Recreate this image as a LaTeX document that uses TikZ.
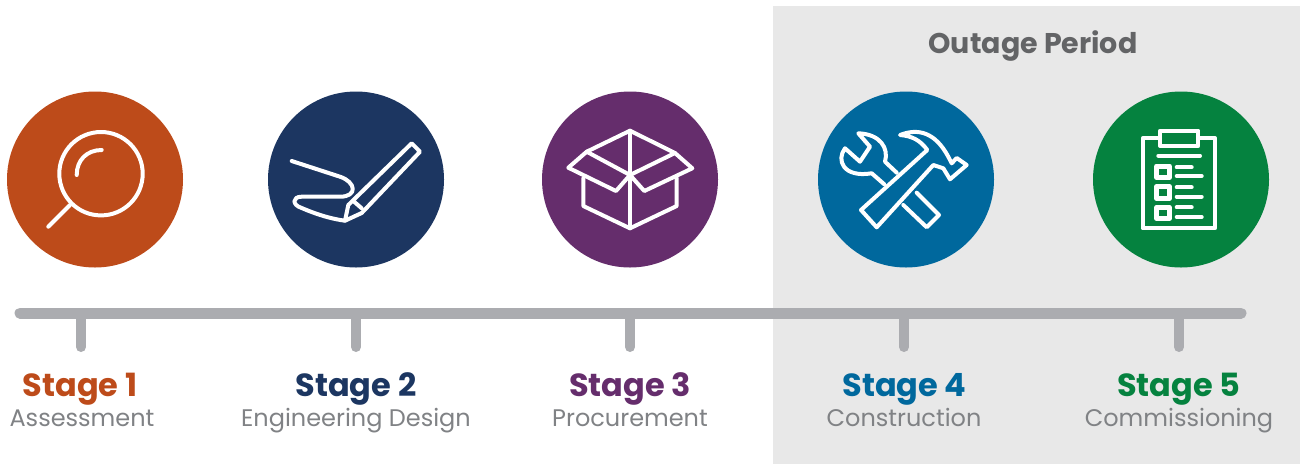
\documentclass[tikz,border=0pt]{standalone}
\usepackage{fontspec}
\setmainfont{Poppins}
\definecolor{stageorange}{HTML}{BD4B1A}
\definecolor{stagenavy}{HTML}{1C3661}
\definecolor{stagepurple}{HTML}{652D6C}
\definecolor{stageblue}{HTML}{00689D}
\definecolor{stagegreen}{HTML}{05823F}
\definecolor{panelgray}{HTML}{E8E8E8}
\definecolor{bargray}{HTML}{ABACB0}
\definecolor{subgray}{HTML}{808285}
\definecolor{outagegray}{HTML}{636466}
\tikzset{
    stagedot/.style={circle,minimum size=176pt,inner sep=0pt},
    stagelabel/.style={anchor=base,inner sep=0pt,font=\fontsize{32}{32}\selectfont\bfseries},
    sublabel/.style={anchor=base,inner sep=0pt,text=subgray,font=\fontsize{24}{24}\selectfont},
    icon/.style={draw=white,line width=4pt,line cap=round,line join=round},
    barline/.style={draw=bargray,line cap=round}
}
\begin{document}
\begin{tikzpicture}[x=1pt,y=-1pt]
    \useasboundingbox (0,0) rectangle (1300,464);
    \fill[panelgray] (773,6) rectangle (1300,464);
    \node[anchor=base,inner sep=0pt,text=outagegray,font=\fontsize{28.5}{28.5}\selectfont\bfseries] (outage) at (1033,53){Outage Period};

    \node[stagedot,fill=stageorange] (dotA) at (95,179.5){};
    \node[stagedot,fill=stagenavy] (dotB) at (356,179.5){};
    \node[stagedot,fill=stagepurple] (dotC) at (630,179.5){};
    \node[stagedot,fill=stageblue] (dotD) at (906,179.5){};
    \node[stagedot,fill=stagegreen] (dotE) at (1181,179.5){};

    \coordinate (barA) at (20,313);
    \coordinate (barB) at (1241,313);
    \coordinate (tickA) at (81,313);
    \coordinate (tickB) at (356,313);
    \coordinate (tickC) at (630,313);
    \coordinate (tickD) at (904,313);
    \coordinate (tickE) at (1179,313);
    \coordinate (endA) at (81,347);
    \coordinate (endB) at (356,347);
    \coordinate (endC) at (630,347);
    \coordinate (endD) at (904,347);
    \coordinate (endE) at (1179,347);
    \draw[barline,line width=10pt] (tickA)--(endA);
    \draw[barline,line width=10pt] (tickB)--(endB);
    \draw[barline,line width=10pt] (tickC)--(endC);
    \draw[barline,line width=10pt] (tickD)--(endD);
    \draw[barline,line width=10pt] (tickE)--(endE);
    \draw[barline,line width=11pt] (barA)--(barB);

    \node[stagelabel,text=stageorange] (stageA) at (80,396.5){Stage 1};
    \node[stagelabel,text=stagenavy] (stageB) at (356,396.5){Stage 2};
    \node[stagelabel,text=stagepurple] (stageC) at (630,396.5){Stage 3};
    \node[stagelabel,text=stageblue] (stageD) at (904.5,396.5){Stage 4};
    \node[stagelabel,text=stagegreen] (stageE) at (1179,396.5){Stage 5};
    \node[sublabel] (subA) at (82,426){Assessment};
    \node[sublabel] (subB) at (356,426){Engineering Design};
    \node[sublabel] (subC) at (630,426){Procurement};
    \node[sublabel] (subD) at (904,426){Construction};
    \node[sublabel] (subE) at (1179,426){Commissioning};

    \draw[icon] (101,173.7) circle (41.7);
    \draw[icon] (70,205)--(48.3,226.7);
    \draw[icon] (76.7,175) .. controls (76.7,160) and (87,150) .. (101.7,150);

    \draw[icon] (291.7,161)--(340,176.7) .. controls (356,182) and (358,196.7) .. (340,196.7)--(301.7,196.7) .. controls (292,196.7) and (292,205) .. (301.7,208) .. controls (318,215) and (332,219) .. (345,220.7);
    \draw[icon] (345,220.7)--(348.3,205)--(411.7,143.3)--(420,151.7)--(361.7,213)--cycle;
    \draw[icon] (353.3,201)--(361.7,208.3);

    \draw[icon] (630,130.7)--(586.7,151.7)--(630,175)--(675,153)--cycle;
    \draw[icon] (586.7,151.7)--(568.3,167.7)--(616,191)--(630,175)--(644.3,191)--(692.3,168.3)--(675,153);
    \draw[icon] (630,130.7)--(630,228.3);
    \draw[icon] (583.3,178.3)--(583.3,206)--(630,228.3)--(676.7,206)--(676.7,178.3);

    \draw[icon] (900,135) .. controls (918,128) and (935,132) .. (948.3,156.7)--(951.7,163.3)--(956.7,158)--(966.7,165)--(950,179.3)--(943.3,168.3)--(933.3,165)--(876.7,227.3)--(861,210)--(927.3,150) .. controls (920,140) and (912,136) .. (900,135)--cycle;
    \draw[icon] (896.7,172.7)--(885,161.7) .. controls (889,148) and (880,134) .. (858.3,133.3)--(870,146.7)--(860,161.7)--(845,148.3) .. controls (836,160) and (843,178) .. (871.7,173.3)--(884.3,184.3);
    \draw[icon] (903.3,205)--(926.7,227.3)--(939,215)--(916.7,192.7);

    \draw[icon] (1160,138.3)--(1142.7,138.3)--(1142.7,228.3)--(1215,228.3)--(1215,138.3)--(1198.3,138.3);
    \draw[icon] (1160,130.7) rectangle (1198.3,146);
    \draw[icon] (1158.3,155.7)--(1200,155.7);
    \draw[icon,line width=5pt] (1156.7,166) rectangle (1169.3,177.3);
    \draw[icon,line width=5pt] (1156.7,186.7) rectangle (1169.3,198.3);
    \draw[icon,line width=5pt] (1156.7,207.3) rectangle (1169.3,218.3);
    \draw[icon] (1176.7,167.3)--(1191.7,167.3);
    \draw[icon] (1176.7,176)--(1201.7,176);
    \draw[icon] (1176.7,187.3)--(1191.7,187.3);
    \draw[icon] (1176.7,196.7)--(1201.7,196.7);
    \draw[icon] (1176.7,207.3)--(1191.7,207.3);
    \draw[icon] (1176.7,217)--(1201.7,217);
\end{tikzpicture}
\end{document}
